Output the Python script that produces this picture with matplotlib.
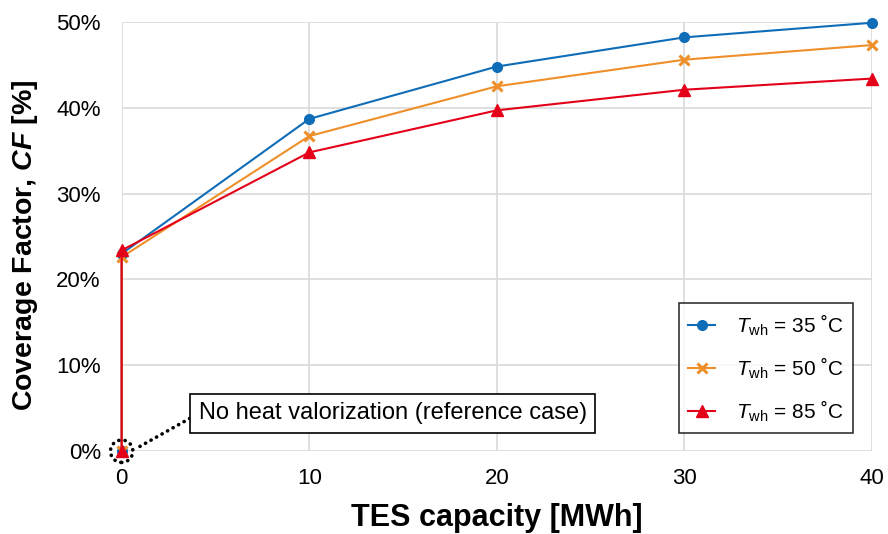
import matplotlib.pyplot as plt
from matplotlib.ticker import FuncFormatter

plt.rcParams['font.family'] = ['Liberation Sans', 'DejaVu Sans']
plt.rcParams['mathtext.fontset'] = 'custom'
plt.rcParams['mathtext.rm'] = 'Liberation Sans'
plt.rcParams['mathtext.it'] = 'Liberation Sans:italic'
plt.rcParams['mathtext.bf'] = 'Liberation Sans:bold'
plt.rcParams['mathtext.bfit'] = 'Liberation Sans:bold:italic'

# TES capacity [MWh] (first point = reference case without heat valorization)
tes = [0, 0, 10, 20, 30, 40]
cf_35 = [0, 23.0, 38.7, 44.8, 48.2, 49.9]
cf_50 = [0, 22.6, 36.7, 42.5, 45.6, 47.3]
cf_85 = [0, 23.4, 34.8, 39.7, 42.1, 43.4]
labels = ['$\\mathit{T}_{\\mathrm{wh}}$ = 35 ˚C',
          '$\\mathit{T}_{\\mathrm{wh}}$ = 50 ˚C',
          '$\\mathit{T}_{\\mathrm{wh}}$ = 85 ˚C']

fig = plt.figure(figsize=(8.88, 5.34), dpi=100)
ax = fig.add_axes([0.137, 0.155, 0.845, 0.804])

ax.plot(tes, cf_35, color='#0F6DB8', marker='o', ms=7, lw=1.5, label=labels[0], clip_on=False, zorder=3)
ax.plot(tes, cf_50, color='#EE8F2A', marker='x', ms=7, mew=2.2, lw=1.5, label=labels[1], clip_on=False, zorder=3)
ax.plot(tes, cf_85, color='#E5001A', marker='^', ms=8, lw=1.5, label=labels[2], clip_on=False, zorder=4)

# dotted circle around the reference case
dots = (0, (0.05, 1.7))
ax.scatter([0], [0], s=260, facecolors='none', edgecolors='black', linewidths=2.6,
           linestyles=dots, capstyle='round', clip_on=False, zorder=5)
ax.annotate('No heat valorization (reference case)', xy=(0.8, 0.35), xytext=(4.1, 4.4),
            fontsize=17, va='center', ha='left', annotation_clip=False, zorder=6,
            bbox=dict(boxstyle='square,pad=0.35', fc='white', ec='black', lw=1.2),
            arrowprops=dict(arrowstyle='-', color='black', lw=2.6, linestyle=dots,
                            capstyle='round', shrinkA=0, shrinkB=0, relpos=(0, 0.5)))

ax.set_xlim(0, 40)
ax.set_ylim(0, 50)
ax.set_xticks([0, 10, 20, 30, 40])
ax.set_yticks([0, 10, 20, 30, 40, 50])
ax.yaxis.set_major_formatter(FuncFormatter(lambda v, p: f'{v:.0f}%'))
ax.tick_params(length=0, labelsize=16)
ax.tick_params(axis='y', pad=15)
ax.tick_params(axis='x', pad=12)
ax.grid(True, color='#d9d9d9', lw=1.2)
ax.set_axisbelow(True)
for s in ax.spines.values():
    s.set_visible(False)

ax.set_xlabel('TES capacity [MWh]', fontsize=22, fontweight='bold', labelpad=10)
ax.set_ylabel('Coverage Factor, $\\mathbfit{CF}$ [%]', fontsize=20.5, fontweight='bold', labelpad=12)
ax.yaxis.label.set_y(0.48)

leg = ax.legend(loc='lower right', bbox_to_anchor=(0.975, 0.042), borderaxespad=0, fontsize=15,
                frameon=True, fancybox=False, edgecolor='black', handlelength=1.3,
                labelspacing=0.85, borderpad=0.45, handletextpad=1.0)
leg.get_frame().set_linewidth(1.2)

fig.savefig('out.png', dpi=100)
